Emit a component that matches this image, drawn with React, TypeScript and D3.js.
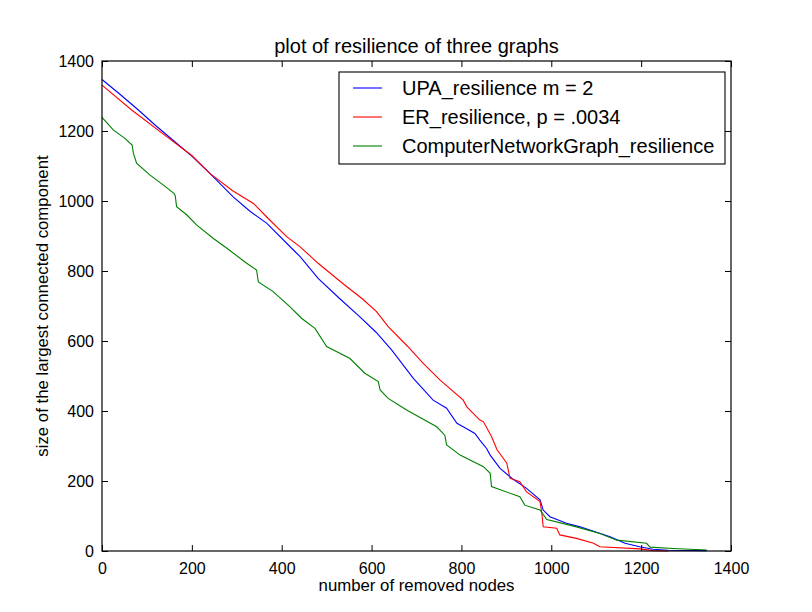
import React, { useEffect, useRef } from 'react'
import * as d3 from 'd3'

const W = 812
const H = 612
const margin = { top: 61, bottom: 61, left: 102, right: 81 }
const width = W - margin.left - margin.right
const height = H - margin.top - margin.bottom

const title = 'plot of resilience of three graphs'
const xLabel = 'number of removed nodes'
const yLabel = 'size of the largest connected component'
const xTicks = [0, 200, 400, 600, 800, 1000, 1200, 1400]
const yTicks = [0, 200, 400, 600, 800, 1000, 1200, 1400]

// [removed nodes, size of largest component]
const upaData: [number, number][] = [
    [0, 1347], [40, 1305], [81, 1260], [120, 1215], [166, 1165], [200, 1128], [240, 1079],
    [292, 1012], [330, 970], [367, 936], [426, 860], [441, 841], [481, 779], [530, 720],
    [574, 669], [610, 625], [645, 574], [693, 493], [737, 431], [767, 408], [790, 365],
    [804, 355], [830, 336], [841, 317], [856, 293], [864, 274], [886, 236], [912, 208],
    [945, 179], [975, 146], [982, 117], [997, 98], [1034, 79], [1064, 69], [1086, 60],
    [1131, 41], [1164, 22], [1197, 12], [1226, 5], [1260, 2], [1346, 1],
]

const erData: [number, number][] = [
    [0, 1331], [66, 1260], [144, 1184], [200, 1130], [240, 1079], [290, 1030], [337, 993],
    [370, 950], [411, 898], [441, 869], [481, 822], [540, 760], [580, 720], [611, 684],
    [637, 641], [680, 585], [715, 536], [752, 489], [804, 431], [812, 412], [841, 374],
    [849, 369], [867, 327], [879, 290], [901, 251], [908, 208], [930, 198], [945, 169],
    [975, 141], [979, 108], [982, 69], [1012, 65], [1019, 46], [1056, 36], [1094, 22],
    [1108, 12], [1197, 6], [1226, 1], [1260, 0],
]

const cngData: [number, number][] = [
    [0, 1239], [25, 1203], [51, 1179], [67, 1160], [70, 1136], [77, 1108], [107, 1074],
    [136, 1046], [160, 1022], [163, 1015], [166, 984], [189, 960], [211, 931], [248, 893],
    [278, 865], [322, 822], [344, 803], [348, 769], [381, 741], [418, 698], [444, 665],
    [474, 636], [500, 584], [552, 550], [585, 508], [615, 484], [619, 460], [637, 436],
    [678, 403], [745, 355], [763, 331], [767, 303], [797, 274], [849, 241], [864, 222],
    [867, 184], [930, 155], [941, 131], [975, 117], [990, 90], [1034, 76], [1056, 69],
    [1108, 50], [1146, 31], [1212, 22], [1220, 11], [1271, 7], [1346, 3],
]

const seriesNames = ['UPA_resilience m = 2', 'ER_resilience, p = .0034', 'ComputerNetworkGraph_resilience']
const seriesColors = ['#0000ff', '#ff0000', '#008000']
const seriesData = [upaData, erData, cngData]

const font = '"Liberation Sans", Arial, sans-serif'
const tickSize = 16
const labelSize = 16.8
const bigSize = 20

export default function App() {
    const ref = useRef<SVGSVGElement | null>(null)

    useEffect(() => {
        document.body.style.margin = '0'
        const svg = d3.select(ref.current)
        svg.selectAll('*').remove()

        svg.append('rect').attr('width', W).attr('height', H).attr('fill', '#ffffff')

        const g = svg.append('g')
            .attr('transform', `translate(${margin.left}, ${margin.top})`)

        const x = d3.scaleLinear().domain([0, 1400]).range([0, width])
        const y = d3.scaleLinear().domain([0, 1400]).range([height, 0])

        // lines
        const line = d3.line<[number, number]>()
            .x(d => x(d[0]))
            .y(d => y(d[1]))

        seriesData.forEach((data, i) => {
            g.append('path')
                .datum(data)
                .attr('d', line)
                .attr('fill', 'none')
                .attr('stroke', seriesColors[i])
                .attr('stroke-width', 1.1)
        })

        // ticks inside on all sides (classic matplotlib)
        const tickLen = 6
        const fmt = d3.format('d')
        const bottomAxis = g.append('g').attr('transform', `translate(0, ${height})`)
            .call(d3.axisBottom(x).tickValues(xTicks).tickFormat(fmt as any).tickSizeInner(-tickLen).tickSizeOuter(0).tickPadding(8))
        const topAxis = g.append('g')
            .call(d3.axisTop(x).tickValues(xTicks).tickSizeInner(-tickLen).tickSizeOuter(0).tickFormat(() => ''))
        const leftAxis = g.append('g')
            .call(d3.axisLeft(y).tickValues(yTicks).tickFormat(fmt as any).tickSizeInner(-tickLen).tickSizeOuter(0).tickPadding(8))
        const rightAxis = g.append('g').attr('transform', `translate(${width}, 0)`)
            .call(d3.axisRight(y).tickValues(yTicks).tickSizeInner(-tickLen).tickSizeOuter(0).tickFormat(() => ''))

        for (const a of [bottomAxis, topAxis, leftAxis, rightAxis]) {
            a.select('.domain').remove()
            a.selectAll('line').attr('stroke', '#000').attr('stroke-width', 1)
            a.selectAll('text')
                .attr('font-family', font)
                .attr('font-size', tickSize)
                .attr('fill', '#000')
        }
        bottomAxis.selectAll('text').attr('dy', '0.95em')

        // frame
        g.append('rect')
            .attr('width', width)
            .attr('height', height)
            .attr('fill', 'none')
            .attr('stroke', '#000')
            .attr('stroke-width', 1.2)

        // title & labels
        g.append('text')
            .attr('x', width / 2)
            .attr('y', -8)
            .attr('text-anchor', 'middle')
            .attr('font-family', font)
            .attr('font-size', bigSize)
            .text(title)

        g.append('text')
            .attr('x', width / 2)
            .attr('y', height + 40)
            .attr('text-anchor', 'middle')
            .attr('font-family', font)
            .attr('font-size', labelSize)
            .text(xLabel)

        g.append('text')
            .attr('x', -(height / 2))
            .attr('y', -54)
            .attr('transform', 'rotate(-90)')
            .attr('text-anchor', 'middle')
            .attr('font-family', font)
            .attr('font-size', labelSize)
            .text(yLabel)

        // legend
        const lg = svg.append('g').attr('transform', 'translate(339, 72)')
        lg.append('rect')
            .attr('width', 386)
            .attr('height', 92)
            .attr('fill', '#fff')
            .attr('stroke', '#000')
            .attr('stroke-width', 1.1)
        seriesNames.forEach((name, i) => {
            const yy = 16 + i * 29
            lg.append('line')
                .attr('x1', 14).attr('x2', 43)
                .attr('y1', yy).attr('y2', yy)
                .attr('stroke', seriesColors[i])
                .attr('stroke-width', 1.1)
            lg.append('text')
                .attr('x', 63)
                .attr('y', yy)
                .attr('dy', '0.35em')
                .attr('font-family', font)
                .attr('font-size', bigSize)
                .text(name)
        })
    }, [])

    return (
        <svg ref={ref} width={W} height={H} style={{ display: 'block', position: 'absolute', left: 0, top: 0 }} />
    )
}
